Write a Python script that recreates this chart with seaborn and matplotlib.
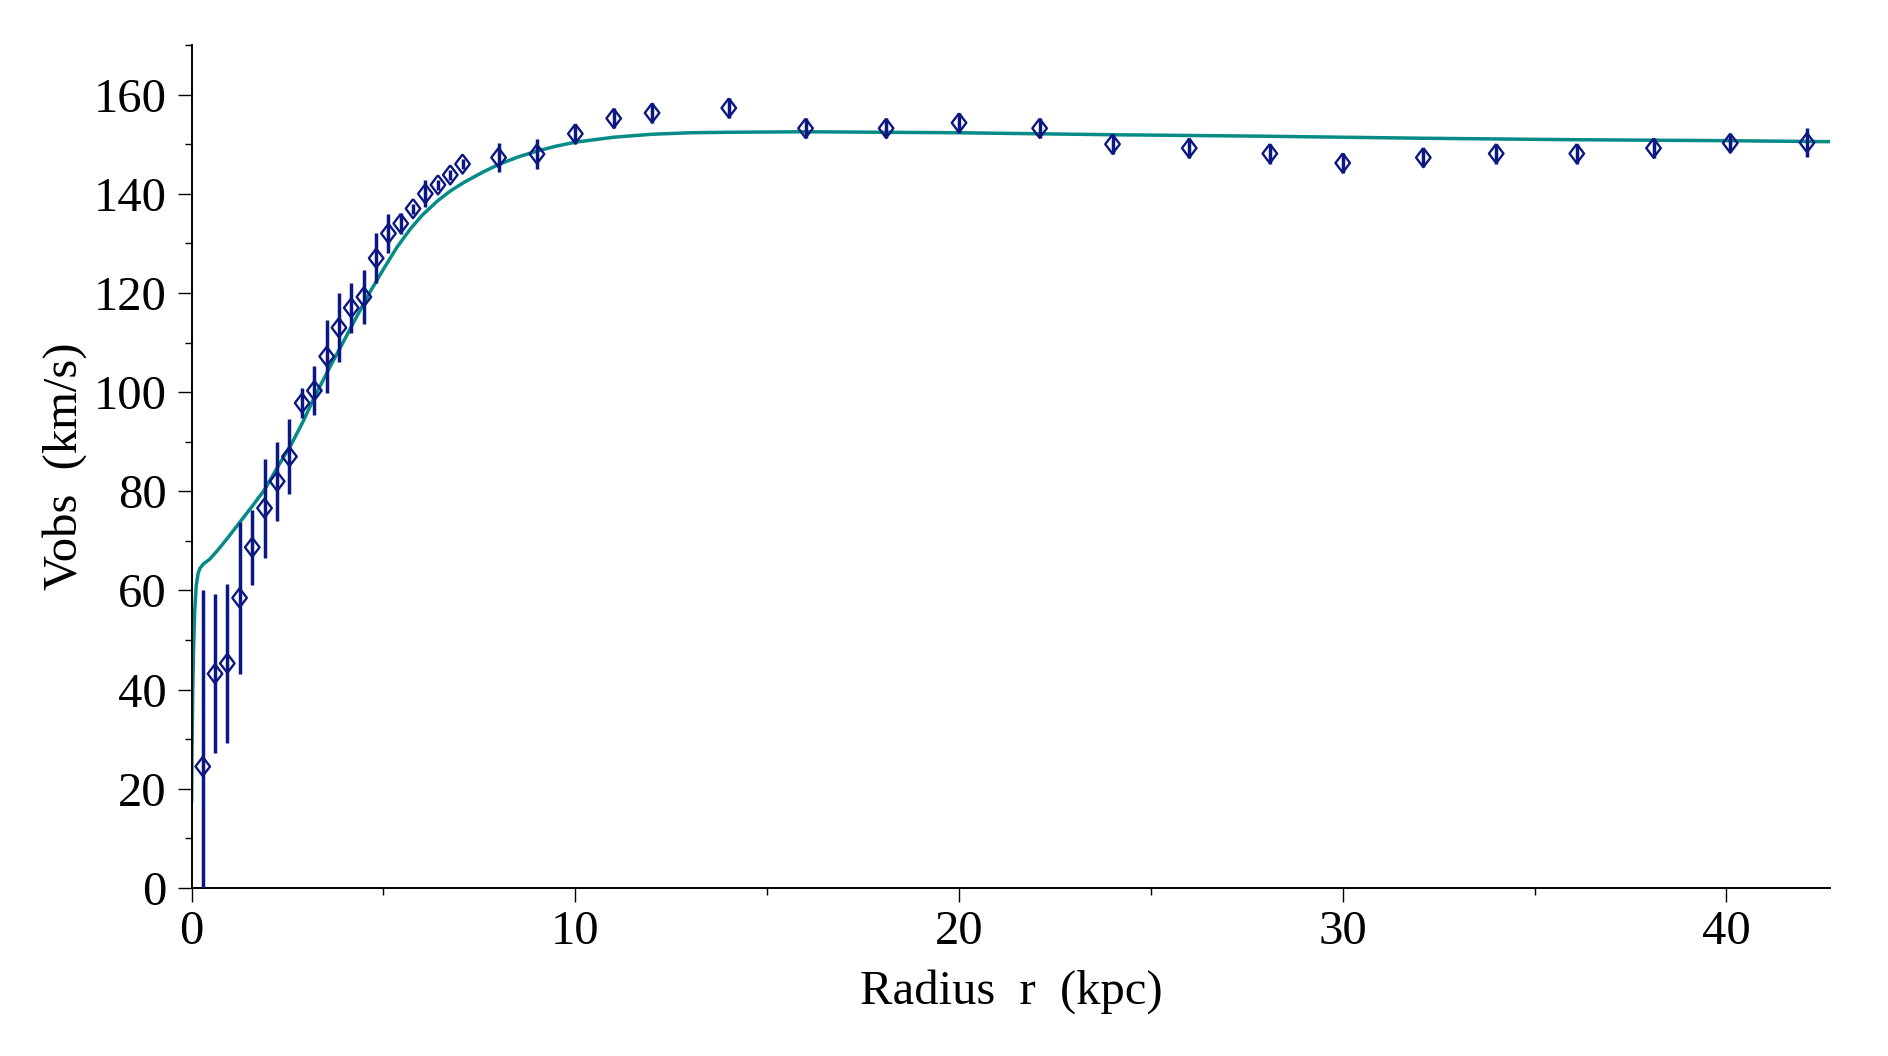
import numpy as np
import pandas as pd
import matplotlib
matplotlib.use("Agg")
import matplotlib.pyplot as plt
from matplotlib.ticker import MultipleLocator
import seaborn as sns

radius = [0.29, 0.61, 0.93, 1.25, 1.58, 1.90, 2.23, 2.55, 2.88, 3.20, 3.52,
          3.84, 4.16, 4.49, 4.81, 5.13, 5.45, 5.77, 6.09, 6.42, 6.74, 7.06,
          8.0, 9.0, 10.0, 11.0, 12.0, 14.0, 16.0, 18.1, 20.0, 22.1, 24.0,
          26.0, 28.1, 30.0, 32.1, 34.0, 36.1, 38.1, 40.1, 42.1]
vobs = [24.5, 43.2, 45.3, 58.5, 68.7, 76.6, 82.0, 87.0, 97.8, 100.3, 107.2,
        113.0, 117.0, 119.2, 127.0, 132.0, 134.0, 137.0, 140.0, 141.8, 143.8,
        146.0, 147.3, 148.0, 152.1, 155.2, 156.3, 157.3, 153.2, 153.2, 154.3,
        153.2, 150.0, 149.2, 148.1, 146.2, 147.3, 148.1, 148.1, 149.2, 150.2,
        150.3]
verr = [35.5, 16.0, 16.0, 15.3, 7.5, 10.0, 8.0, 7.5, 3.0, 5.0, 7.3,
        7.0, 5.0, 5.5, 5.0, 4.0, 2.1, 1.0, 2.7, 1.0, 1.0, 1.0,
        3.0, 3.0, 2.0, 2.0, 2.0, 2.0, 2.0, 2.0, 2.0, 2.0, 2.0,
        2.0, 2.0, 2.0, 2.0, 2.0, 2.0, 2.0, 1.8, 2.9]

# model curve
r_fit = [0.0, 0.01, 0.03, 0.05, 0.08, 0.12, 0.17, 0.22, 0.3, 0.47, 0.7, 0.95,
         1.25, 1.55, 1.9, 2.25, 2.6, 2.9, 3.2, 3.6, 4.0, 4.3, 4.65, 5.0, 5.35,
         5.7, 6.0, 6.4, 6.75, 7.1, 7.6, 8.0, 8.5, 9.0, 9.5, 10.0, 11.0, 12.0,
         13.0, 14.0, 16.0, 18.0, 20.0, 22.0, 24.0, 28.0, 32.0, 36.0, 40.0, 42.7]
v_fit = [17.3, 28.0, 40.0, 48.0, 56.0, 61.0, 63.5, 64.5, 65.3, 66.3, 68.3, 70.7,
         73.7, 76.7, 80.3, 85.0, 89.5, 94.0, 99.0, 105.0, 110.8, 115.2, 120.2,
         124.8, 129.2, 132.9, 135.6, 138.5, 140.6, 142.3, 144.4, 145.9, 147.4,
         148.6, 149.6, 150.4, 151.4, 152.0, 152.3, 152.4, 152.5, 152.4, 152.3,
         152.1, 151.9, 151.6, 151.2, 150.9, 150.7, 150.5]

navy = "#0c1782"
teal = "#068b87"

sns.set_style("ticks")
plt.rcParams["font.family"] = ["Liberation Serif", "DejaVu Serif"]
plt.rcParams["text.color"] = "black"
plt.rcParams["axes.labelcolor"] = "black"
plt.rcParams["xtick.color"] = "black"
plt.rcParams["ytick.color"] = "black"

obs = pd.DataFrame({"r": radius, "v": vobs, "err": verr})
fit = pd.DataFrame({"r": r_fit, "v": v_fit})

fig = plt.figure(figsize=(18.88, 10.56), dpi=100)
ax = fig.add_axes([0.1015, 0.1591, 0.8678, 0.7983])

sns.lineplot(data=fit, x="r", y="v", ax=ax, color=teal, linewidth=2.5,
             estimator=None, zorder=2)
ax.errorbar(obs["r"], obs["v"], yerr=obs["err"], fmt="none", ecolor=navy,
            elinewidth=2.5, capsize=0, zorder=3)
diamond = [(0, 1), (0.76, 0), (0, -1), (-0.76, 0), (0, 1)]
sns.scatterplot(data=obs, x="r", y="v", ax=ax, marker=diamond, s=190,
                facecolor="none", edgecolor=navy, linewidth=1.7, zorder=4)

ax.set_xlim(0, 42.7)
ax.set_ylim(0, 170)
ax.xaxis.set_major_locator(MultipleLocator(10))
ax.xaxis.set_minor_locator(MultipleLocator(5))
ax.yaxis.set_major_locator(MultipleLocator(20))
ax.yaxis.set_minor_locator(MultipleLocator(10))
ax.tick_params(which="major", length=10, width=1.0, labelsize=35)
ax.tick_params(which="minor", length=5, width=1.0)
ax.tick_params(axis="x", which="major", pad=6)
ax.tick_params(axis="y", which="major", pad=8)

sns.despine(ax=ax)
for side in ["left", "bottom"]:
    ax.spines[side].set_linewidth(1.4)
    ax.spines[side].set_color("black")

ax.set_xlabel("Radius  r  (kpc)", fontsize=35, labelpad=11)
ax.set_ylabel("Vobs  (km/s)", fontsize=35, labelpad=5)

fig.savefig("out.png", dpi=100)
